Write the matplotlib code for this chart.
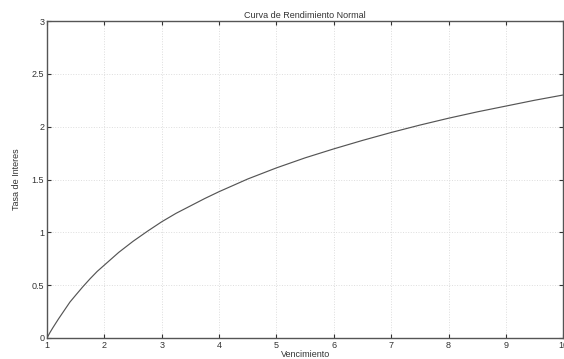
import matplotlib.pyplot as plt

# valores
vencimiento = [1, 1.05, 1.1, 1.2, 1.3, 1.4, 1.5, 1.625, 1.75, 1.875, 2,
               2.25, 2.5, 2.75, 3, 3.25, 3.5, 3.75, 4, 4.5, 5, 5.5,
               6, 6.5, 7, 7.5, 8, 8.5, 9, 9.5, 10]
tasa = [0, 0.05, 0.095, 0.18, 0.26, 0.34, 0.405, 0.485, 0.56, 0.63, 0.69,
        0.81, 0.915, 1.01, 1.10, 1.18, 1.25, 1.32, 1.385, 1.505, 1.61, 1.705,
        1.79, 1.87, 1.945, 2.015, 2.08, 2.14, 2.195, 2.25, 2.30]
xticks = list(range(1, 11))
yticks = [0, 0.5, 1, 1.5, 2, 2.5, 3]

plt.rcParams['font.family'] = ['Liberation Sans', 'DejaVu Sans']

fig = plt.figure(figsize=(5.64, 3.59), dpi=100)
ax = fig.add_axes([0.0833, 0.0585, 0.9155, 0.883])

ax.plot(vencimiento, tasa, color='#555555', linewidth=0.85)

ax.set_xlim(1, 10)
ax.set_ylim(0, 3)
ax.set_xticks(xticks)
ax.set_yticks(yticks)
ax.set_yticklabels(['0', '0.5', '1', '1.5', '2', '2.5', '3'])
ax.tick_params(direction='in', length=3, width=0.8, labelsize=6.5,
               top=True, right=True, colors='#333333', pad=2)
ax.grid(True, linestyle=':', color='#dddddd', linewidth=0.7)
for s in ax.spines.values():
    s.set_color('#555555')
    s.set_linewidth(1.0)

ax.set_title('Curva de Rendimiento Normal', fontsize=6.5, color='#333333', pad=2)
ax.set_xlabel('Vencimiento', fontsize=6.5, color='#333333', labelpad=0)
ax.set_ylabel('Tasa de Interes', fontsize=6.5, color='#333333', labelpad=8)

fig.savefig('out.png', dpi=100)
